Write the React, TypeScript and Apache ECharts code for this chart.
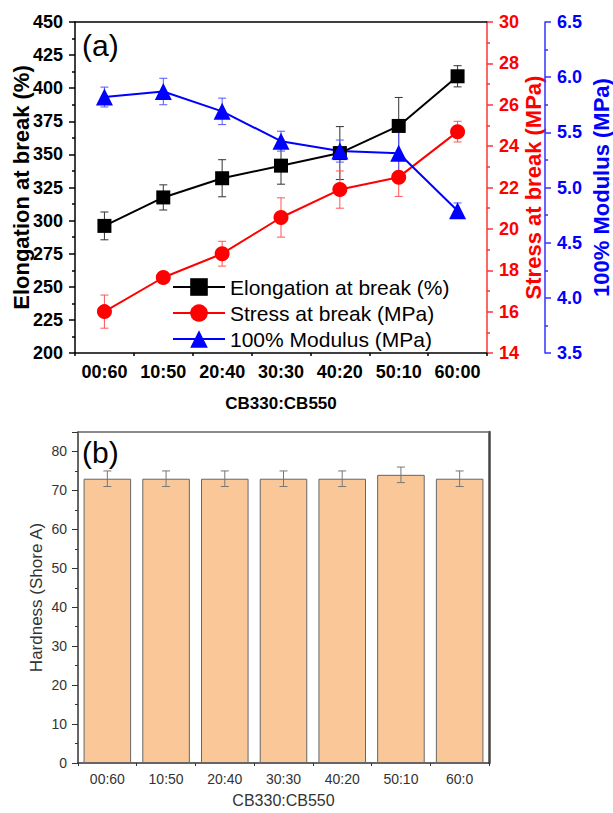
import React, { useEffect, useRef } from 'react';
import * as echarts from 'echarts';

const topCategories = ['00:60', '10:50', '20:40', '30:30', '40:20', '50:10', '60:00'];
const elongation = [296, 317.5, 332, 341.5, 351, 371.5, 409];
const elongationErr = [10.5, 9.5, 14, 14, 20, 21.5, 8];
const stress = [16.0, 17.65, 18.8, 20.55, 21.9, 22.5, 24.7];
const stressErr = [0.8, 0.2, 0.6, 0.95, 0.9, 0.93, 0.5];
const modulus = [5.82, 5.87, 5.69, 5.42, 5.33, 5.31, 4.79];
const modulusErr = [0.09, 0.12, 0.12, 0.09, 0.1, 0.23, 0.07];

const bottomCategories = ['00:60', '10:50', '20:40', '30:30', '40:20', '50:10', '60:0'];
const hardness = [73, 73, 73, 73, 73, 74, 73];
const hardnessErr = [2, 2, 2, 2, 2, 2, 2];

const FONT = 'Liberation Sans, Arial, sans-serif';

const errData = (vals: number[], errs: number[]) =>
  vals.map((v, i) => [i, v - errs[i], v + errs[i]]);

const errSeries = (
  name: string,
  data: number[][],
  color: string,
  xAxisIndex: number,
  yAxisIndex: number,
  z: number
) => ({
  type: 'custom',
  name,
  xAxisIndex,
  yAxisIndex,
  z,
  silent: true,
  encode: { x: 0, y: [1, 2] },
  data,
  renderItem: (params: any, api: any) => {
    const x = api.value(0);
    const lo = api.coord([x, api.value(1)]);
    const hi = api.coord([x, api.value(2)]);
    const hw = 4;
    const style = { stroke: color, lineWidth: 1 };
    return {
      type: 'group',
      children: [
        { type: 'line', shape: { x1: hi[0], y1: hi[1], x2: lo[0], y2: lo[1] }, style },
        { type: 'line', shape: { x1: hi[0] - hw, y1: hi[1], x2: hi[0] + hw, y2: hi[1] }, style },
        { type: 'line', shape: { x1: lo[0] - hw, y1: lo[1], x2: lo[0] + hw, y2: lo[1] }, style },
      ],
    };
  },
});

export default function App() {
  const ref = useRef<HTMLDivElement>(null);
  useEffect(() => {
    if (!ref.current) return;
    const chart = echarts.init(ref.current, null, { renderer: 'svg' });
    const boldLabel = (color: string, margin: number) => ({
      color,
      fontFamily: FONT,
      fontWeight: 'bold',
      fontSize: 18,
      margin,
    });
    const option: any = {
      animation: false,
      backgroundColor: '#fff',
      textStyle: { fontFamily: FONT },
      grid: [
        { left: 75, top: 22, width: 412, height: 331, outerBoundsMode: 'none', containLabel: false },
        { left: 78, top: 432, width: 411, height: 331, outerBoundsMode: 'none', containLabel: false },
      ],
      legend: {
        orient: 'vertical',
        left: 167,
        top: 271,
        itemWidth: 52,
        itemHeight: 22,
        itemGap: 4,
        textStyle: { fontFamily: FONT, fontSize: 21, lineHeight: 22, color: '#000' },
        data: ['Elongation at break (%)', 'Stress at break (MPa)', '100% Modulus (MPa)'],
      },
      graphic: [
        {
          type: 'text',
          left: 82,
          top: 30,
          style: { text: '(a)', font: `30px ${FONT}`, fill: '#000' },
        },
        {
          type: 'text',
          left: 82,
          top: 437,
          style: { text: '(b)', font: `30px ${FONT}`, fill: '#000' },
        },
      ],
      xAxis: [
        {
          type: 'category',
          gridIndex: 0,
          position: 'bottom',
          data: topCategories,
          boundaryGap: true,
          axisLine: { lineStyle: { color: '#000', width: 1.5 } },
          axisTick: { alignWithLabel: true, length: 5, lineStyle: { color: '#000', width: 1.5 } },
          axisLabel: { ...boldLabel('#000', 10), interval: 0 },
          name: 'CB330:CB550',
          nameLocation: 'middle',
          nameGap: 42,
          nameMoveOverlap: false,
          nameTextStyle: { fontFamily: FONT, fontWeight: 'bold', fontSize: 17, color: '#000' },
        },
        {
          type: 'category',
          gridIndex: 0,
          position: 'bottom',
          data: topCategories,
          boundaryGap: true,
          axisLine: { show: false },
          axisTick: { show: true, interval: 0, length: 3, lineStyle: { color: '#000', width: 1.5 } },
          axisLabel: { show: false },
        },
        {
          type: 'category',
          gridIndex: 0,
          position: 'top',
          data: topCategories,
          axisLine: { lineStyle: { color: '#000', width: 1.5 } },
          axisTick: { show: false },
          axisLabel: { show: false },
        },
        {
          type: 'category',
          gridIndex: 1,
          position: 'bottom',
          data: bottomCategories,
          boundaryGap: true,
          axisLine: { lineStyle: { color: '#333', width: 1.5 } },
          axisTick: { alignWithLabel: true, interval: 0, length: 4, lineStyle: { color: '#333' } },
          axisLabel: { color: '#333', fontFamily: FONT, fontSize: 14, margin: 9, interval: 0 },
          name: 'CB330:CB550',
          nameLocation: 'middle',
          nameGap: 29,
          nameMoveOverlap: false,
          nameTextStyle: { fontFamily: FONT, fontSize: 16, color: '#333' },
        },
        {
          type: 'category',
          gridIndex: 1,
          position: 'bottom',
          data: bottomCategories,
          boundaryGap: true,
          axisLine: { show: false },
          axisTick: { show: true, interval: 0, length: 3, lineStyle: { color: '#333' } },
          axisLabel: { show: false },
        },
        {
          type: 'category',
          gridIndex: 1,
          position: 'top',
          data: bottomCategories,
          axisLine: { lineStyle: { color: '#666', width: 1.5 } },
          axisTick: { show: false },
          axisLabel: { show: false },
        },
      ],
      yAxis: [
        {
          type: 'value',
          gridIndex: 0,
          position: 'left',
          min: 200,
          max: 450,
          interval: 25,
          splitLine: { show: false },
          axisLine: { show: true, lineStyle: { color: '#000', width: 1.5 } },
          axisTick: { show: true, length: 6, lineStyle: { color: '#000', width: 1.5 } },
          minorTick: { show: true, splitNumber: 2, length: 3, lineStyle: { color: '#000', width: 1.5 } },
          axisLabel: boldLabel('#000', 12),
          name: 'Elongation at break (%)',
          nameLocation: 'middle',
          nameGap: 43,
          nameMoveOverlap: false,
          nameTextStyle: { fontFamily: FONT, fontWeight: 'bold', fontSize: 22, color: '#000' },
        },
        {
          type: 'value',
          gridIndex: 0,
          position: 'right',
          min: 14,
          max: 30,
          interval: 2,
          splitLine: { show: false },
          axisLine: { show: true, lineStyle: { color: '#ff3333', width: 1.5 } },
          axisTick: { show: true, length: 6, lineStyle: { color: '#ff3333', width: 1.5 } },
          minorTick: { show: true, splitNumber: 2, length: 3, lineStyle: { color: '#ff3333', width: 1.5 } },
          axisLabel: boldLabel('#ff0000', 12),
          name: 'Stress at break (MPa)',
          nameLocation: 'middle',
          nameGap: 35,
          nameMoveOverlap: false,
          nameTextStyle: { fontFamily: FONT, fontWeight: 'bold', fontSize: 22, color: '#ff0000' },
        },
        {
          type: 'value',
          gridIndex: 0,
          position: 'right',
          offset: 58,
          min: 3.5,
          max: 6.5,
          interval: 0.5,
          splitLine: { show: false },
          axisLine: { show: true, lineStyle: { color: '#3333ff', width: 1.5 } },
          axisTick: { show: true, length: 6, lineStyle: { color: '#3333ff', width: 1.5 } },
          minorTick: { show: true, splitNumber: 2, length: 3, lineStyle: { color: '#3333ff', width: 1.5 } },
          axisLabel: { ...boldLabel('#0000ff', 12), formatter: (v: number) => v.toFixed(1) },
          name: '100% Modulus (MPa)',
          nameLocation: 'middle',
          nameGap: 45,
          nameMoveOverlap: false,
          nameTextStyle: { fontFamily: FONT, fontWeight: 'bold', fontSize: 22, color: '#0000ff' },
        },
        {
          type: 'value',
          gridIndex: 1,
          position: 'left',
          min: 0,
          max: 85,
          interval: 10,
          splitLine: { show: false },
          axisLine: { show: true, lineStyle: { color: '#333', width: 1.5 } },
          axisTick: { show: true, length: 6, lineStyle: { color: '#333' } },
          minorTick: { show: true, splitNumber: 2, length: 3, lineStyle: { color: '#333' } },
          axisLabel: { color: '#333', fontFamily: FONT, fontSize: 14, margin: 11, showMaxLabel: false },
          name: 'Hardness (Shore A)',
          nameLocation: 'middle',
          nameGap: 33,
          nameMoveOverlap: false,
          nameTextStyle: { fontFamily: FONT, fontSize: 17, color: '#333' },
        },
        {
          type: 'value',
          gridIndex: 1,
          position: 'right',
          min: 0,
          max: 85,
          splitLine: { show: false },
          axisLine: { show: true, lineStyle: { color: '#444', width: 2.5 } },
          axisTick: { show: false },
          axisLabel: { show: false },
        },
      ],
      series: [
        errSeries('elongErr', errData(elongation, elongationErr), '#333', 0, 0, 2),
        errSeries('stressErr', errData(stress, stressErr), '#ff5555', 0, 1, 2),
        errSeries('modErr', errData(modulus, modulusErr), '#5555ff', 0, 2, 2),
        {
          type: 'line',
          name: 'Elongation at break (%)',
          xAxisIndex: 0,
          yAxisIndex: 0,
          data: elongation,
          symbol: 'rect',
          symbolSize: 14,
          z: 3,
          itemStyle: { color: '#000' },
          lineStyle: { color: '#000', width: 2 },
        },
        {
          type: 'line',
          name: 'Stress at break (MPa)',
          xAxisIndex: 0,
          yAxisIndex: 1,
          data: stress,
          symbol: 'circle',
          symbolSize: 15,
          z: 3,
          itemStyle: { color: '#ff0000' },
          lineStyle: { color: '#ff0000', width: 2 },
        },
        {
          type: 'line',
          name: '100% Modulus (MPa)',
          xAxisIndex: 0,
          yAxisIndex: 2,
          data: modulus,
          symbol: 'triangle',
          symbolSize: 17,
          z: 3,
          itemStyle: { color: '#0000ff' },
          lineStyle: { color: '#0000ff', width: 2 },
        },
        {
          type: 'bar',
          name: 'Hardness',
          xAxisIndex: 3,
          yAxisIndex: 3,
          data: hardness,
          barCategoryGap: '19%',
          itemStyle: { color: '#FAC898', borderColor: '#666', borderWidth: 1 },
        },
        errSeries('hardErr', errData(hardness, hardnessErr), '#777', 3, 3, 3),
      ],
    };
    chart.setOption(option);
    return () => chart.dispose();
  }, []);
  return (
    <div
      ref={ref}
      style={{ position: 'fixed', left: 0, top: 0, width: 613, height: 813, background: '#fff' }}
    />
  );
}
